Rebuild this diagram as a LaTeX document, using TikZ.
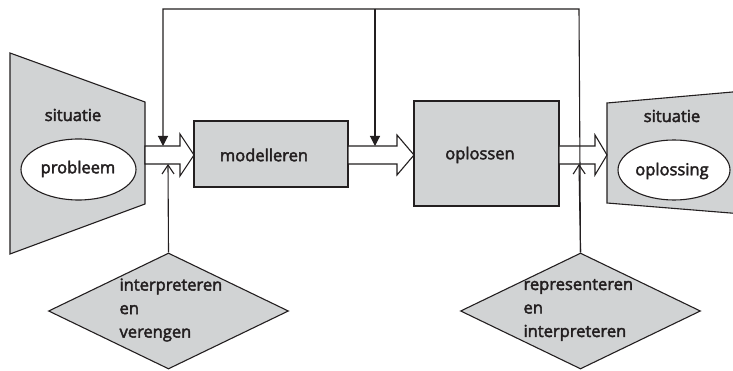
\documentclass[tikz,border=0pt]{standalone}
\usepackage{fontspec}
\setmainfont{Open Sans}[FakeBold=2.5]
\usetikzlibrary{shapes.geometric,arrows.meta}
\definecolor{boxgray}{RGB}{209,211,212}
\definecolor{ink}{RGB}{35,31,32}
\tikzset{
  lbl/.style={font=\fontsize{16.5}{23.5}\selectfont, text=ink, inner sep=0pt},
  grayshape/.style={draw=ink, fill=boxgray, line join=miter},
  rectbox/.style={grayshape, rectangle, inner sep=0pt},
  diabox/.style={grayshape, diamond, inner sep=0pt},
  ellbox/.style={draw=ink, fill=white, ellipse, inner sep=0pt},
  hollow/.style={draw=ink, fill=white, line join=miter},
  link/.style={draw=ink},
  fbarrow/.style={-{Triangle[length=10pt,width=10pt]}},
  uparrow/.style={-{Straight Barb[length=9pt,width=12pt]}}
}
\begin{document}
\begin{tikzpicture}[x=1pt,y=-1pt,line width=1.1pt]
\clip (0,0) rectangle (733,371);
\fill[white] (0,0) rectangle (733,371);
% trapezoids
\draw[grayshape] (10,53) -- (145,102) -- (145,204) -- (10,254) -- cycle;
\draw[grayshape] (607,103) -- (760,89.6) -- (760,215.4) -- (607,203) -- cycle;
\node[lbl] (sit1) at (73,115) {situatie};
\node[lbl] (sit2) at (672,116) {situatie};
\node[ellbox, minimum width=115pt, minimum height=61pt] (probleem) at (78.5,169.5) {};
\node[lbl] at (78,169) {probleem};
\node[ellbox, minimum width=112pt, minimum height=60pt] (oplossing) at (674,170) {};
\node[lbl] at (672,171) {oplossing};
% boxes
\node[rectbox, minimum width=154pt, minimum height=66pt] (model) at (271,154) {};
\node[lbl] at (264,155) {modelleren};
\node[rectbox, minimum width=145pt, minimum height=105pt] (opl) at (486.5,153.5) {};
\node[lbl] at (480,155) {oplossen};
% diamonds
\node[diabox, minimum width=240pt, minimum height=116pt] (ldia) at (168.5,311) {};
\node[lbl, anchor=west, align=left] at (119,310) {interpreteren\\en\\verengen};
\node[diabox, minimum width=240pt, minimum height=116pt] (rdia) at (580.5,311) {};
\node[lbl, anchor=west, align=left] at (523,310) {representeren\\en\\interpreteren};
% hollow arrows
\draw[hollow] (145,146) -- (180,146) -- (180,134) -- (194,155) -- (180,176) -- (180,164) -- (145,164) -- cycle;
\draw[hollow] (348,146) -- (397,146) -- (397,135) -- (414,155) -- (397,175) -- (397,164) -- (348,164) -- cycle;
\draw[hollow] (559,146) -- (595,146) -- (595,135) -- (607,155) -- (595,175) -- (595,164) -- (559,164) -- cycle;
% coordinates
\coordinate (fbR) at (579,9);
\coordinate (fbM) at (375,9);
\coordinate (fbL) at (163,9);
\coordinate (inL) at (163,146);
\coordinate (inM) at (375,146);
\coordinate (upL) at (168,164);
\coordinate (upR) at (579,164);
% connectors
\draw[link, fbarrow] (rdia.north) -- (fbR) -- (fbL) -- (inL);
\draw[link, fbarrow] (fbM) -- (inM);
\draw[link, uparrow] (ldia.north) -- (upL);
\draw[link, uparrow] (rdia.north) -- (upR);
\end{tikzpicture}
\end{document}
